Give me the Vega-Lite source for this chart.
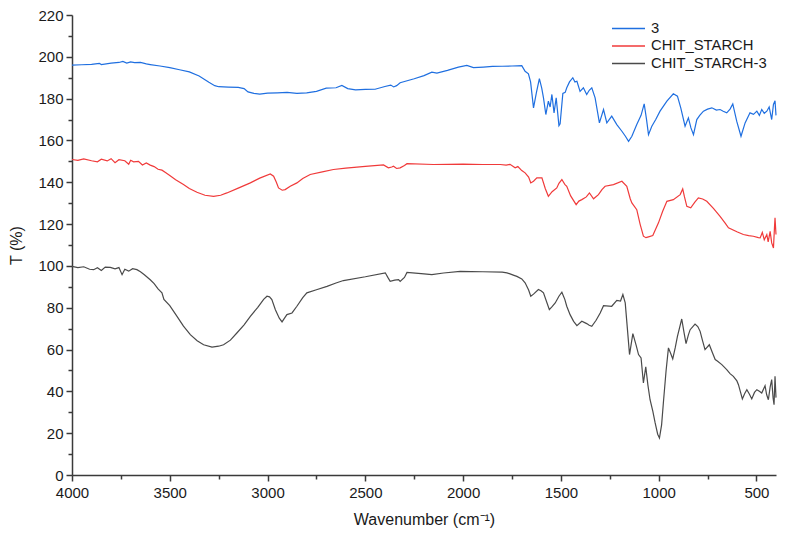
{
  "$schema": "https://vega.github.io/schema/vega-lite/v6.json",
  "autosize": "none",
  "width": 704,
  "height": 460,
  "padding": {"left": 72, "top": 15, "right": 11, "bottom": 60},
  "background": "white",
  "config": {
    "view": {"stroke": null},
    "font": "Liberation Sans",
    "axis": {"grid": false, "domainColor": "#3a3a3a", "domainWidth": 1.5, "tickColor": "#3a3a3a", "tickWidth": 1.5, "labelColor": "#1a1a1a", "titleColor": "#1a1a1a", "labelFontSize": 15, "titleFontSize": 16, "titleFontWeight": "normal", "labelFont": "Liberation Sans", "titleFont": "Liberation Sans"}
  },
  "datasets": {
    "spectra": [
      {"s":"3","wn":4000,"t":196},{"s":"3","wn":3950,"t":196.2},{"s":"3","wn":3900,"t":196.4},{"s":"3","wn":3860,"t":196.9},{"s":"3","wn":3850,"t":196.3},{"s":"3","wn":3800,"t":197},{"s":"3","wn":3760,"t":197.3},{"s":"3","wn":3740,"t":197.8},{"s":"3","wn":3720,"t":197},{"s":"3","wn":3700,"t":197.6},{"s":"3","wn":3680,"t":197.2},{"s":"3","wn":3650,"t":197.3},{"s":"3","wn":3620,"t":196.6},{"s":"3","wn":3600,"t":196.3},{"s":"3","wn":3550,"t":195.6},{"s":"3","wn":3500,"t":194.8},{"s":"3","wn":3450,"t":193.8},{"s":"3","wn":3400,"t":192.8},{"s":"3","wn":3350,"t":190.8},{"s":"3","wn":3320,"t":189},{"s":"3","wn":3300,"t":187.8},{"s":"3","wn":3270,"t":186.2},{"s":"3","wn":3250,"t":185.7},{"s":"3","wn":3200,"t":185.5},{"s":"3","wn":3150,"t":185.4},{"s":"3","wn":3120,"t":184.8},{"s":"3","wn":3100,"t":183.2},{"s":"3","wn":3070,"t":182.5},{"s":"3","wn":3040,"t":182.2},{"s":"3","wn":3000,"t":182.6},{"s":"3","wn":2950,"t":182.8},{"s":"3","wn":2900,"t":183},{"s":"3","wn":2850,"t":182.5},{"s":"3","wn":2800,"t":182.8},{"s":"3","wn":2750,"t":183.5},{"s":"3","wn":2700,"t":185},{"s":"3","wn":2650,"t":185.2},{"s":"3","wn":2620,"t":186.3},{"s":"3","wn":2590,"t":184.8},{"s":"3","wn":2550,"t":184.2},{"s":"3","wn":2500,"t":184.4},{"s":"3","wn":2450,"t":184.5},{"s":"3","wn":2400,"t":185.8},{"s":"3","wn":2370,"t":186.5},{"s":"3","wn":2355,"t":185.6},{"s":"3","wn":2340,"t":186.2},{"s":"3","wn":2322,"t":187.6},{"s":"3","wn":2250,"t":189.5},{"s":"3","wn":2200,"t":191},{"s":"3","wn":2160,"t":192.7},{"s":"3","wn":2134,"t":192.2},{"s":"3","wn":2080,"t":193.5},{"s":"3","wn":2024,"t":195.1},{"s":"3","wn":1981,"t":195.9},{"s":"3","wn":1947,"t":194.8},{"s":"3","wn":1896,"t":195.1},{"s":"3","wn":1850,"t":195.4},{"s":"3","wn":1800,"t":195.5},{"s":"3","wn":1750,"t":195.6},{"s":"3","wn":1700,"t":195.8},{"s":"3","wn":1683,"t":193.1},{"s":"3","wn":1666,"t":191.9},{"s":"3","wn":1655,"t":188},{"s":"3","wn":1640,"t":175.6},{"s":"3","wn":1625,"t":183},{"s":"3","wn":1610,"t":189.6},{"s":"3","wn":1598,"t":185},{"s":"3","wn":1589,"t":180.4},{"s":"3","wn":1577,"t":172.4},{"s":"3","wn":1564,"t":178.8},{"s":"3","wn":1555,"t":176},{"s":"3","wn":1546,"t":182},{"s":"3","wn":1535,"t":173.2},{"s":"3","wn":1524,"t":180.4},{"s":"3","wn":1510,"t":167.1},{"s":"3","wn":1504,"t":168},{"s":"3","wn":1490,"t":182.5},{"s":"3","wn":1478,"t":183},{"s":"3","wn":1470,"t":185.2},{"s":"3","wn":1456,"t":188},{"s":"3","wn":1439,"t":190},{"s":"3","wn":1428,"t":188},{"s":"3","wn":1418,"t":188.3},{"s":"3","wn":1402,"t":183.5},{"s":"3","wn":1385,"t":185.2},{"s":"3","wn":1368,"t":182},{"s":"3","wn":1355,"t":184},{"s":"3","wn":1342,"t":185.2},{"s":"3","wn":1325,"t":180.4},{"s":"3","wn":1303,"t":168.4},{"s":"3","wn":1282,"t":174.8},{"s":"3","wn":1265,"t":168.4},{"s":"3","wn":1240,"t":171.6},{"s":"3","wn":1214,"t":167.6},{"s":"3","wn":1188,"t":164.4},{"s":"3","wn":1170,"t":162},{"s":"3","wn":1154,"t":159.6},{"s":"3","wn":1137,"t":162},{"s":"3","wn":1112,"t":167.6},{"s":"3","wn":1090,"t":172},{"s":"3","wn":1074,"t":177.5},{"s":"3","wn":1062,"t":170},{"s":"3","wn":1052,"t":162.8},{"s":"3","wn":1035,"t":166.8},{"s":"3","wn":1015,"t":170},{"s":"3","wn":993,"t":174},{"s":"3","wn":958,"t":178.8},{"s":"3","wn":925,"t":182.3},{"s":"3","wn":904,"t":181.2},{"s":"3","wn":887,"t":175.6},{"s":"3","wn":865,"t":166.8},{"s":"3","wn":848,"t":170.8},{"s":"3","wn":835,"t":166},{"s":"3","wn":822,"t":162.8},{"s":"3","wn":805,"t":170},{"s":"3","wn":790,"t":172},{"s":"3","wn":771,"t":174},{"s":"3","wn":750,"t":175},{"s":"3","wn":728,"t":175.6},{"s":"3","wn":705,"t":174.5},{"s":"3","wn":686,"t":174.8},{"s":"3","wn":670,"t":174},{"s":"3","wn":652,"t":173.2},{"s":"3","wn":635,"t":175},{"s":"3","wn":621,"t":177.5},{"s":"3","wn":601,"t":169.2},{"s":"3","wn":579,"t":162},{"s":"3","wn":558,"t":168.4},{"s":"3","wn":533,"t":173.2},{"s":"3","wn":515,"t":172.5},{"s":"3","wn":498,"t":174},{"s":"3","wn":485,"t":172},{"s":"3","wn":473,"t":174.8},{"s":"3","wn":460,"t":173},{"s":"3","wn":447,"t":174},{"s":"3","wn":435,"t":176},{"s":"3","wn":422,"t":170},{"s":"3","wn":413,"t":177.2},{"s":"3","wn":405,"t":179},{"s":"3","wn":400,"t":172},

      {"s":"CHIT_STARCH","wn":4000,"t":150.9},{"s":"CHIT_STARCH","wn":3970,"t":150.5},{"s":"CHIT_STARCH","wn":3940,"t":151.2},{"s":"CHIT_STARCH","wn":3900,"t":150.3},{"s":"CHIT_STARCH","wn":3870,"t":149.8},{"s":"CHIT_STARCH","wn":3850,"t":151},{"s":"CHIT_STARCH","wn":3820,"t":150.2},{"s":"CHIT_STARCH","wn":3800,"t":151.3},{"s":"CHIT_STARCH","wn":3780,"t":149.4},{"s":"CHIT_STARCH","wn":3760,"t":150.8},{"s":"CHIT_STARCH","wn":3730,"t":150.3},{"s":"CHIT_STARCH","wn":3710,"t":148.6},{"s":"CHIT_STARCH","wn":3700,"t":150.5},{"s":"CHIT_STARCH","wn":3685,"t":149.8},{"s":"CHIT_STARCH","wn":3660,"t":150},{"s":"CHIT_STARCH","wn":3640,"t":148.3},{"s":"CHIT_STARCH","wn":3620,"t":149.2},{"s":"CHIT_STARCH","wn":3600,"t":148.2},{"s":"CHIT_STARCH","wn":3580,"t":147.5},{"s":"CHIT_STARCH","wn":3560,"t":146.2},{"s":"CHIT_STARCH","wn":3540,"t":145.8},{"s":"CHIT_STARCH","wn":3520,"t":144.5},{"s":"CHIT_STARCH","wn":3500,"t":143.2},{"s":"CHIT_STARCH","wn":3470,"t":141.2},{"s":"CHIT_STARCH","wn":3430,"t":138.9},{"s":"CHIT_STARCH","wn":3400,"t":137},{"s":"CHIT_STARCH","wn":3361,"t":135.2},{"s":"CHIT_STARCH","wn":3320,"t":133.8},{"s":"CHIT_STARCH","wn":3276,"t":133.3},{"s":"CHIT_STARCH","wn":3240,"t":133.8},{"s":"CHIT_STARCH","wn":3208,"t":134.9},{"s":"CHIT_STARCH","wn":3150,"t":137.2},{"s":"CHIT_STARCH","wn":3088,"t":139.7},{"s":"CHIT_STARCH","wn":3040,"t":142},{"s":"CHIT_STARCH","wn":2986,"t":144},{"s":"CHIT_STARCH","wn":2969,"t":142.9},{"s":"CHIT_STARCH","wn":2955,"t":140},{"s":"CHIT_STARCH","wn":2944,"t":137.3},{"s":"CHIT_STARCH","wn":2925,"t":136.2},{"s":"CHIT_STARCH","wn":2910,"t":136.5},{"s":"CHIT_STARCH","wn":2884,"t":138.1},{"s":"CHIT_STARCH","wn":2850,"t":139.7},{"s":"CHIT_STARCH","wn":2820,"t":141.8},{"s":"CHIT_STARCH","wn":2782,"t":143.7},{"s":"CHIT_STARCH","wn":2720,"t":145},{"s":"CHIT_STARCH","wn":2663,"t":146.1},{"s":"CHIT_STARCH","wn":2600,"t":146.8},{"s":"CHIT_STARCH","wn":2500,"t":147.6},{"s":"CHIT_STARCH","wn":2407,"t":148.3},{"s":"CHIT_STARCH","wn":2382,"t":146.9},{"s":"CHIT_STARCH","wn":2365,"t":147.3},{"s":"CHIT_STARCH","wn":2356,"t":147.7},{"s":"CHIT_STARCH","wn":2340,"t":146.6},{"s":"CHIT_STARCH","wn":2322,"t":146.9},{"s":"CHIT_STARCH","wn":2300,"t":148},{"s":"CHIT_STARCH","wn":2287,"t":148.9},{"s":"CHIT_STARCH","wn":2152,"t":148.5},{"s":"CHIT_STARCH","wn":2000,"t":148.7},{"s":"CHIT_STARCH","wn":1900,"t":148.5},{"s":"CHIT_STARCH","wn":1810,"t":148.5},{"s":"CHIT_STARCH","wn":1780,"t":148.2},{"s":"CHIT_STARCH","wn":1760,"t":148.6},{"s":"CHIT_STARCH","wn":1734,"t":146.9},{"s":"CHIT_STARCH","wn":1720,"t":147.5},{"s":"CHIT_STARCH","wn":1700,"t":145.6},{"s":"CHIT_STARCH","wn":1683,"t":144.5},{"s":"CHIT_STARCH","wn":1665,"t":142.5},{"s":"CHIT_STARCH","wn":1654,"t":139.7},{"s":"CHIT_STARCH","wn":1640,"t":140.5},{"s":"CHIT_STARCH","wn":1623,"t":142.1},{"s":"CHIT_STARCH","wn":1597,"t":142.1},{"s":"CHIT_STARCH","wn":1580,"t":137},{"s":"CHIT_STARCH","wn":1564,"t":133.3},{"s":"CHIT_STARCH","wn":1545,"t":135.5},{"s":"CHIT_STARCH","wn":1521,"t":137.3},{"s":"CHIT_STARCH","wn":1510,"t":139.5},{"s":"CHIT_STARCH","wn":1495,"t":141.3},{"s":"CHIT_STARCH","wn":1480,"t":139},{"s":"CHIT_STARCH","wn":1470,"t":138.1},{"s":"CHIT_STARCH","wn":1450,"t":133.5},{"s":"CHIT_STARCH","wn":1422,"t":129.3},{"s":"CHIT_STARCH","wn":1408,"t":131},{"s":"CHIT_STARCH","wn":1393,"t":131.7},{"s":"CHIT_STARCH","wn":1370,"t":133},{"s":"CHIT_STARCH","wn":1354,"t":134.9},{"s":"CHIT_STARCH","wn":1333,"t":132.1},{"s":"CHIT_STARCH","wn":1308,"t":134.1},{"s":"CHIT_STARCH","wn":1290,"t":136.5},{"s":"CHIT_STARCH","wn":1274,"t":138.1},{"s":"CHIT_STARCH","wn":1231,"t":138.9},{"s":"CHIT_STARCH","wn":1188,"t":140.5},{"s":"CHIT_STARCH","wn":1163,"t":138.1},{"s":"CHIT_STARCH","wn":1145,"t":132},{"s":"CHIT_STARCH","wn":1137,"t":130.1},{"s":"CHIT_STARCH","wn":1112,"t":126.9},{"s":"CHIT_STARCH","wn":1095,"t":120},{"s":"CHIT_STARCH","wn":1078,"t":114.2},{"s":"CHIT_STARCH","wn":1065,"t":113.5},{"s":"CHIT_STARCH","wn":1052,"t":113.9},{"s":"CHIT_STARCH","wn":1030,"t":114.5},{"s":"CHIT_STARCH","wn":1001,"t":120.6},{"s":"CHIT_STARCH","wn":980,"t":126},{"s":"CHIT_STARCH","wn":958,"t":130.9},{"s":"CHIT_STARCH","wn":925,"t":131.7},{"s":"CHIT_STARCH","wn":890,"t":134.1},{"s":"CHIT_STARCH","wn":877,"t":136.8},{"s":"CHIT_STARCH","wn":868,"t":133},{"s":"CHIT_STARCH","wn":856,"t":128.5},{"s":"CHIT_STARCH","wn":836,"t":127.8},{"s":"CHIT_STARCH","wn":815,"t":130.5},{"s":"CHIT_STARCH","wn":797,"t":132.5},{"s":"CHIT_STARCH","wn":775,"t":132},{"s":"CHIT_STARCH","wn":754,"t":130.9},{"s":"CHIT_STARCH","wn":720,"t":127.5},{"s":"CHIT_STARCH","wn":686,"t":123.7},{"s":"CHIT_STARCH","wn":660,"t":120.5},{"s":"CHIT_STARCH","wn":643,"t":118.2},{"s":"CHIT_STARCH","wn":600,"t":116.3},{"s":"CHIT_STARCH","wn":567,"t":115},{"s":"CHIT_STARCH","wn":540,"t":114.5},{"s":"CHIT_STARCH","wn":516,"t":114.2},{"s":"CHIT_STARCH","wn":490,"t":113.5},{"s":"CHIT_STARCH","wn":481,"t":113.4},{"s":"CHIT_STARCH","wn":470,"t":116},{"s":"CHIT_STARCH","wn":460,"t":112.5},{"s":"CHIT_STARCH","wn":447,"t":115},{"s":"CHIT_STARCH","wn":440,"t":111.5},{"s":"CHIT_STARCH","wn":430,"t":116.5},{"s":"CHIT_STARCH","wn":422,"t":111},{"s":"CHIT_STARCH","wn":413,"t":108.6},{"s":"CHIT_STARCH","wn":408,"t":118},{"s":"CHIT_STARCH","wn":405,"t":123},{"s":"CHIT_STARCH","wn":400,"t":115},

      {"s":"CHIT_STARCH-3","wn":4000,"t":99.8},{"s":"CHIT_STARCH-3","wn":3970,"t":99.2},{"s":"CHIT_STARCH-3","wn":3940,"t":99.6},{"s":"CHIT_STARCH-3","wn":3910,"t":98.4},{"s":"CHIT_STARCH-3","wn":3889,"t":98.2},{"s":"CHIT_STARCH-3","wn":3870,"t":99.1},{"s":"CHIT_STARCH-3","wn":3850,"t":97.8},{"s":"CHIT_STARCH-3","wn":3830,"t":99.4},{"s":"CHIT_STARCH-3","wn":3804,"t":99.3},{"s":"CHIT_STARCH-3","wn":3780,"t":98.6},{"s":"CHIT_STARCH-3","wn":3760,"t":99.2},{"s":"CHIT_STARCH-3","wn":3744,"t":95.8},{"s":"CHIT_STARCH-3","wn":3730,"t":98.4},{"s":"CHIT_STARCH-3","wn":3710,"t":97.5},{"s":"CHIT_STARCH-3","wn":3690,"t":98.7},{"s":"CHIT_STARCH-3","wn":3668,"t":98.2},{"s":"CHIT_STARCH-3","wn":3650,"t":97.2},{"s":"CHIT_STARCH-3","wn":3630,"t":95.8},{"s":"CHIT_STARCH-3","wn":3600,"t":93.4},{"s":"CHIT_STARCH-3","wn":3580,"t":91.5},{"s":"CHIT_STARCH-3","wn":3560,"t":89},{"s":"CHIT_STARCH-3","wn":3540,"t":87.1},{"s":"CHIT_STARCH-3","wn":3530,"t":84},{"s":"CHIT_STARCH-3","wn":3500,"t":81},{"s":"CHIT_STARCH-3","wn":3463,"t":75.9},{"s":"CHIT_STARCH-3","wn":3430,"t":71.2},{"s":"CHIT_STARCH-3","wn":3395,"t":67.1},{"s":"CHIT_STARCH-3","wn":3360,"t":64.2},{"s":"CHIT_STARCH-3","wn":3327,"t":62.3},{"s":"CHIT_STARCH-3","wn":3284,"t":61.2},{"s":"CHIT_STARCH-3","wn":3250,"t":61.6},{"s":"CHIT_STARCH-3","wn":3225,"t":62.3},{"s":"CHIT_STARCH-3","wn":3190,"t":64.5},{"s":"CHIT_STARCH-3","wn":3157,"t":67.9},{"s":"CHIT_STARCH-3","wn":3120,"t":71.8},{"s":"CHIT_STARCH-3","wn":3088,"t":75.9},{"s":"CHIT_STARCH-3","wn":3050,"t":80.2},{"s":"CHIT_STARCH-3","wn":3020,"t":84},{"s":"CHIT_STARCH-3","wn":3003,"t":85.5},{"s":"CHIT_STARCH-3","wn":2990,"t":85.2},{"s":"CHIT_STARCH-3","wn":2978,"t":83.9},{"s":"CHIT_STARCH-3","wn":2960,"t":79},{"s":"CHIT_STARCH-3","wn":2940,"t":75},{"s":"CHIT_STARCH-3","wn":2926,"t":73.2},{"s":"CHIT_STARCH-3","wn":2915,"t":74.8},{"s":"CHIT_STARCH-3","wn":2901,"t":76.7},{"s":"CHIT_STARCH-3","wn":2875,"t":77.5},{"s":"CHIT_STARCH-3","wn":2850,"t":80.7},{"s":"CHIT_STARCH-3","wn":2820,"t":84.8},{"s":"CHIT_STARCH-3","wn":2799,"t":87.1},{"s":"CHIT_STARCH-3","wn":2750,"t":88.6},{"s":"CHIT_STARCH-3","wn":2696,"t":90.2},{"s":"CHIT_STARCH-3","wn":2650,"t":91.8},{"s":"CHIT_STARCH-3","wn":2612,"t":93},{"s":"CHIT_STARCH-3","wn":2500,"t":94.8},{"s":"CHIT_STARCH-3","wn":2398,"t":96.7},{"s":"CHIT_STARCH-3","wn":2385,"t":94.5},{"s":"CHIT_STARCH-3","wn":2373,"t":92.6},{"s":"CHIT_STARCH-3","wn":2350,"t":93.2},{"s":"CHIT_STARCH-3","wn":2330,"t":93.4},{"s":"CHIT_STARCH-3","wn":2322,"t":92.6},{"s":"CHIT_STARCH-3","wn":2300,"t":94.5},{"s":"CHIT_STARCH-3","wn":2287,"t":96.9},{"s":"CHIT_STARCH-3","wn":2200,"t":96.2},{"s":"CHIT_STARCH-3","wn":2160,"t":95.8},{"s":"CHIT_STARCH-3","wn":2100,"t":96.6},{"s":"CHIT_STARCH-3","wn":2015,"t":97.4},{"s":"CHIT_STARCH-3","wn":1900,"t":97.2},{"s":"CHIT_STARCH-3","wn":1800,"t":97},{"s":"CHIT_STARCH-3","wn":1776,"t":96.7},{"s":"CHIT_STARCH-3","wn":1760,"t":96.2},{"s":"CHIT_STARCH-3","wn":1740,"t":95.5},{"s":"CHIT_STARCH-3","wn":1725,"t":95},{"s":"CHIT_STARCH-3","wn":1700,"t":93.8},{"s":"CHIT_STARCH-3","wn":1683,"t":91.9},{"s":"CHIT_STARCH-3","wn":1665,"t":88.5},{"s":"CHIT_STARCH-3","wn":1654,"t":85.5},{"s":"CHIT_STARCH-3","wn":1640,"t":86.5},{"s":"CHIT_STARCH-3","wn":1615,"t":88.7},{"s":"CHIT_STARCH-3","wn":1600,"t":88},{"s":"CHIT_STARCH-3","wn":1589,"t":87.1},{"s":"CHIT_STARCH-3","wn":1570,"t":82},{"s":"CHIT_STARCH-3","wn":1559,"t":79.1},{"s":"CHIT_STARCH-3","wn":1545,"t":80.5},{"s":"CHIT_STARCH-3","wn":1529,"t":82.3},{"s":"CHIT_STARCH-3","wn":1510,"t":85.5},{"s":"CHIT_STARCH-3","wn":1495,"t":87.4},{"s":"CHIT_STARCH-3","wn":1480,"t":84},{"s":"CHIT_STARCH-3","wn":1470,"t":80.7},{"s":"CHIT_STARCH-3","wn":1453,"t":76.7},{"s":"CHIT_STARCH-3","wn":1435,"t":73.5},{"s":"CHIT_STARCH-3","wn":1418,"t":71.4},{"s":"CHIT_STARCH-3","wn":1393,"t":73.5},{"s":"CHIT_STARCH-3","wn":1368,"t":72.4},{"s":"CHIT_STARCH-3","wn":1355,"t":71.6},{"s":"CHIT_STARCH-3","wn":1342,"t":71.1},{"s":"CHIT_STARCH-3","wn":1320,"t":74},{"s":"CHIT_STARCH-3","wn":1299,"t":77.5},{"s":"CHIT_STARCH-3","wn":1282,"t":81},{"s":"CHIT_STARCH-3","wn":1240,"t":80.7},{"s":"CHIT_STARCH-3","wn":1214,"t":83.5},{"s":"CHIT_STARCH-3","wn":1195,"t":83.2},{"s":"CHIT_STARCH-3","wn":1183,"t":86.3},{"s":"CHIT_STARCH-3","wn":1171,"t":82.3},{"s":"CHIT_STARCH-3","wn":1160,"t":70},{"s":"CHIT_STARCH-3","wn":1149,"t":57.6},{"s":"CHIT_STARCH-3","wn":1132,"t":67.6},{"s":"CHIT_STARCH-3","wn":1115,"t":62},{"s":"CHIT_STARCH-3","wn":1103,"t":57.6},{"s":"CHIT_STARCH-3","wn":1090,"t":56},{"s":"CHIT_STARCH-3","wn":1078,"t":44},{"s":"CHIT_STARCH-3","wn":1066,"t":51.7},{"s":"CHIT_STARCH-3","wn":1055,"t":43},{"s":"CHIT_STARCH-3","wn":1044,"t":36},{"s":"CHIT_STARCH-3","wn":1030,"t":30.5},{"s":"CHIT_STARCH-3","wn":1018,"t":24.9},{"s":"CHIT_STARCH-3","wn":1005,"t":19.5},{"s":"CHIT_STARCH-3","wn":996,"t":17.7},{"s":"CHIT_STARCH-3","wn":985,"t":24},{"s":"CHIT_STARCH-3","wn":976,"t":34.4},{"s":"CHIT_STARCH-3","wn":962,"t":50},{"s":"CHIT_STARCH-3","wn":950,"t":60.8},{"s":"CHIT_STARCH-3","wn":938,"t":58},{"s":"CHIT_STARCH-3","wn":928,"t":55.5},{"s":"CHIT_STARCH-3","wn":915,"t":61},{"s":"CHIT_STARCH-3","wn":904,"t":66.3},{"s":"CHIT_STARCH-3","wn":882,"t":74.6},{"s":"CHIT_STARCH-3","wn":870,"t":68},{"s":"CHIT_STARCH-3","wn":860,"t":62.8},{"s":"CHIT_STARCH-3","wn":848,"t":67},{"s":"CHIT_STARCH-3","wn":839,"t":69.5},{"s":"CHIT_STARCH-3","wn":814,"t":72.2},{"s":"CHIT_STARCH-3","wn":800,"t":71},{"s":"CHIT_STARCH-3","wn":788,"t":68.7},{"s":"CHIT_STARCH-3","wn":775,"t":64},{"s":"CHIT_STARCH-3","wn":763,"t":60},{"s":"CHIT_STARCH-3","wn":741,"t":62.3},{"s":"CHIT_STARCH-3","wn":725,"t":58.5},{"s":"CHIT_STARCH-3","wn":711,"t":55.2},{"s":"CHIT_STARCH-3","wn":700,"t":54.5},{"s":"CHIT_STARCH-3","wn":677,"t":52.8},{"s":"CHIT_STARCH-3","wn":652,"t":50.4},{"s":"CHIT_STARCH-3","wn":635,"t":48.5},{"s":"CHIT_STARCH-3","wn":618,"t":47.2},{"s":"CHIT_STARCH-3","wn":600,"t":45},{"s":"CHIT_STARCH-3","wn":592,"t":43.2},{"s":"CHIT_STARCH-3","wn":572,"t":36.4},{"s":"CHIT_STARCH-3","wn":560,"t":39},{"s":"CHIT_STARCH-3","wn":549,"t":40.8},{"s":"CHIT_STARCH-3","wn":535,"t":38.5},{"s":"CHIT_STARCH-3","wn":524,"t":36.4},{"s":"CHIT_STARCH-3","wn":510,"t":39.5},{"s":"CHIT_STARCH-3","wn":498,"t":40.8},{"s":"CHIT_STARCH-3","wn":485,"t":40},{"s":"CHIT_STARCH-3","wn":473,"t":39.2},{"s":"CHIT_STARCH-3","wn":456,"t":42.7},{"s":"CHIT_STARCH-3","wn":448,"t":38.5},{"s":"CHIT_STARCH-3","wn":439,"t":36},{"s":"CHIT_STARCH-3","wn":430,"t":42},{"s":"CHIT_STARCH-3","wn":422,"t":45.6},{"s":"CHIT_STARCH-3","wn":415,"t":37},{"s":"CHIT_STARCH-3","wn":410,"t":33.6},{"s":"CHIT_STARCH-3","wn":405,"t":47.2},{"s":"CHIT_STARCH-3","wn":400,"t":37}
    ]
  },
  "data": {"name": "spectra"},
  "mark": {"type": "line", "strokeWidth": 1.2, "interpolate": "linear"},
  "encoding": {
    "x": {
      "field": "wn", "type": "quantitative",
      "scale": {"domain": [400, 4000], "reverse": true, "nice": false, "zero": false},
      "axis": {
        "title": "Wavenumber (cm\u207B\u00B9)",
        "values": [4000, 3750, 3500, 3250, 3000, 2750, 2500, 2250, 2000, 1750, 1500, 1250, 1000, 750, 500],
        "labelExpr": "datum.value % 500 === 0 ? datum.label : ''",
        "format": "d",
        "tickSize": {"condition": {"test": "datum.value % 500 === 0", "value": 6}, "value": 4},
        "labelPadding": 4,
        "titlePadding": 11,
        "labelFlush": false
      }
    },
    "y": {
      "field": "t", "type": "quantitative",
      "scale": {"domain": [0, 220], "nice": false},
      "axis": {
        "title": "T (%)",
        "values": [0,10,20,30,40,50,60,70,80,90,100,110,120,130,140,150,160,170,180,190,200,210,220],
        "labelExpr": "datum.value % 20 === 0 ? datum.label : ''",
        "tickSize": {"condition": {"test": "datum.value % 20 === 0", "value": 6}, "value": 4},
        "labelPadding": 3,
        "titlePadding": 13
      }
    },
    "color": {
      "field": "s", "type": "nominal",
      "scale": {"domain": ["3", "CHIT_STARCH", "CHIT_STARCH-3"], "range": ["#1f6fe0", "#f03a3a", "#4a4a4a"]},
      "legend": {
        "title": null,
        "orient": "none",
        "legendX": 548,
        "legendY": 5,
        "symbolType": "M-2.2,0H2.2",
        "symbolSize": 225,
        "symbolStrokeWidth": 1.4,
        "labelFontSize": 14.8,
        "labelColor": "#1a1a1a",
        "labelOffset": 14,
        "rowPadding": 1.5
      }
    }
  }
}
